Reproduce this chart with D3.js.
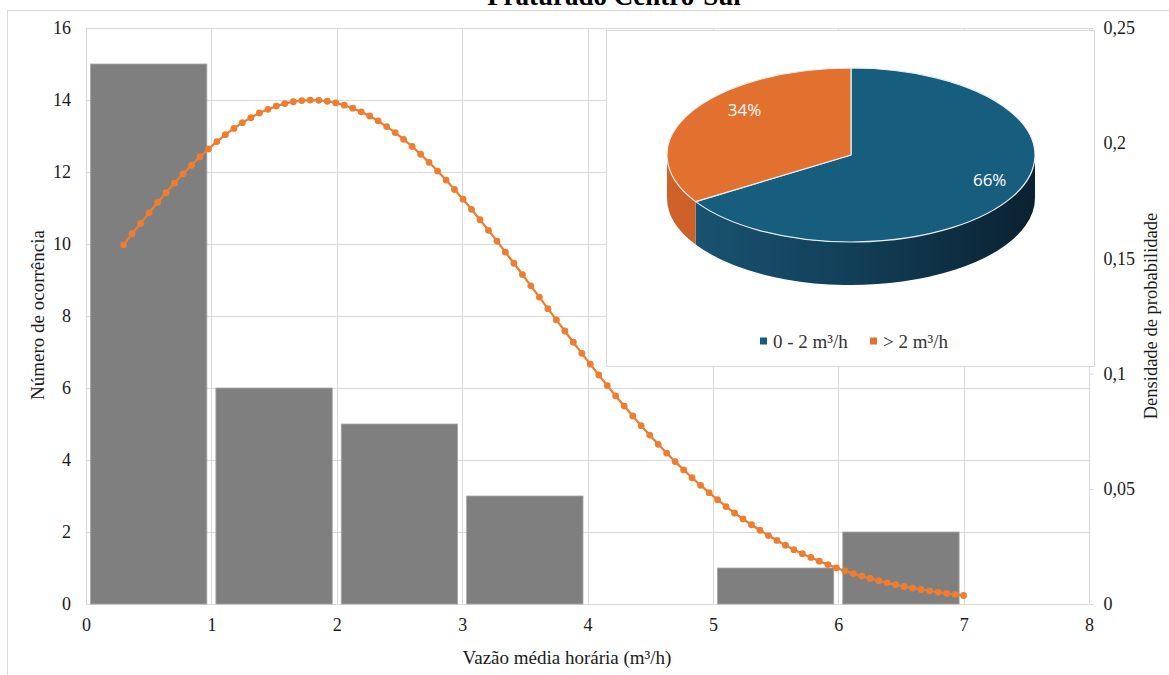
<!DOCTYPE html>
<html><head><meta charset="utf-8">
<script src="https://cdn.jsdelivr.net/npm/d3@7"></script>
<style>html,body{margin:0;padding:0;background:#fff;}svg{display:block;}</style>
</head><body>
<svg id="chart" width="1169" height="675"></svg>
<script>
// ---------- DATA ----------
const title = "Fraturado Centro-Sul";
const binStarts = [0, 1, 2, 3, 4, 5, 6, 7];
const counts = [15, 6, 5, 3, 0, 1, 2, 0];
const curveX = [0.300,0.368,0.435,0.503,0.571,0.638,0.706,0.774,0.841,0.909,0.977,1.044,1.112,1.180,1.247,1.315,1.383,1.451,1.518,1.586,1.654,1.721,1.789,1.857,1.924,1.992,2.060,2.127,2.195,2.263,2.330,2.398,2.466,2.533,2.601,2.669,2.736,2.804,2.872,2.939,3.007,3.075,3.142,3.210,3.278,3.345,3.413,3.481,3.548,3.616,3.684,3.752,3.819,3.887,3.955,4.022,4.090,4.158,4.225,4.293,4.361,4.428,4.496,4.564,4.631,4.699,4.767,4.834,4.902,4.970,5.037,5.105,5.173,5.240,5.308,5.376,5.443,5.511,5.579,5.646,5.714,5.782,5.849,5.917,5.985,6.052,6.120,6.188,6.255,6.323,6.391,6.458,6.526,6.594,6.661,6.729,6.797,6.864,6.932,7.000];
const curveY = [0.1559,0.1607,0.1652,0.1698,0.1743,0.1785,0.1827,0.1867,0.1904,0.1941,0.1975,0.2007,0.2037,0.2064,0.2089,0.2111,0.2131,0.2147,0.2161,0.2172,0.2180,0.2185,0.2187,0.2186,0.2182,0.2175,0.2165,0.2152,0.2136,0.2118,0.2097,0.2072,0.2046,0.2017,0.1986,0.1952,0.1917,0.1879,0.1840,0.1799,0.1757,0.1713,0.1668,0.1622,0.1575,0.1527,0.1479,0.1430,0.1381,0.1332,0.1282,0.1233,0.1185,0.1136,0.1088,0.1041,0.0994,0.0948,0.0903,0.0859,0.0816,0.0774,0.0733,0.0693,0.0655,0.0618,0.0582,0.0548,0.0515,0.0483,0.0453,0.0423,0.0395,0.0369,0.0344,0.0320,0.0297,0.0276,0.0255,0.0236,0.0218,0.0202,0.0186,0.0171,0.0157,0.0144,0.0132,0.0121,0.0111,0.0101,0.0092,0.0084,0.0076,0.0069,0.0063,0.0057,0.0051,0.0046,0.0042,0.0037];
const xTicks = [0, 1, 2, 3, 4, 5, 6, 7, 8];
const yLeftTicks = [0, 2, 4, 6, 8, 10, 12, 14, 16];
const yRightTicks = [0, 0.05, 0.1, 0.15, 0.2, 0.25];
const pieLabels = ["0 - 2 m³/h", "> 2 m³/h"];
const pieValues = [66, 34];
const xTitle = "Vazão média horária (m³/h)";
const yLeftTitle = "Número de ocorrência";
const yRightTitle = "Densidade de probabilidade";

// ---------- LAYOUT ----------
const svg = d3.select("#chart");
const serif = "Liberation Serif, Times New Roman, serif";
const M = {left: 86, right: 1089, top: 28, bottom: 604};
const x = d3.scaleLinear().domain([0, 8]).range([M.left, M.right]);
const yL = d3.scaleLinear().domain([0, 16]).range([M.bottom, M.top]);
const yR = d3.scaleLinear().domain([0, 0.25]).range([M.bottom, M.top]);
const grid = "#d9d9d9";
const txt = "#1a1a1a";

// outer frame
svg.append("rect").attr("x", 7.5).attr("y", 10.5).attr("width", 1200).attr("height", 700)
  .attr("fill", "none").attr("stroke", grid);

// title (partly cut off at the top, as in the source)
svg.append("text").attr("x", 614).attr("y", 5).attr("text-anchor", "middle")
  .attr("font-family", serif).attr("font-weight", "bold").attr("font-size", 27).attr("fill", "#000")
  .text(title);

// gridlines
svg.append("g").selectAll("line").data(yLeftTicks).join("line")
  .attr("x1", M.left).attr("x2", M.right)
  .attr("y1", d => Math.round(yL(d)) + 0.5).attr("y2", d => Math.round(yL(d)) + 0.5)
  .attr("stroke", grid);
svg.append("g").selectAll("line").data(xTicks).join("line")
  .attr("y1", M.top).attr("y2", M.bottom)
  .attr("x1", d => Math.round(x(d)) + 0.5).attr("x2", d => Math.round(x(d)) + 0.5)
  .attr("stroke", grid);

// axes via d3 axis generators
const axLeft = svg.append("g").attr("transform", `translate(${M.left - 15},0)`)
  .call(d3.axisLeft(yL).tickValues(yLeftTicks).tickSize(0).tickPadding(0).tickFormat(d3.format("d")));
const axBottom = svg.append("g").attr("transform", `translate(0,${M.bottom + 14})`)
  .call(d3.axisBottom(x).tickValues(xTicks).tickSize(0).tickPadding(0).tickFormat(d3.format("d")));
const fmtR = d => d === 0 ? "0" : String(d).replace(".", ",");
const axRight = svg.append("g").attr("transform", `translate(${M.right + 0.5},0)`)
  .call(d3.axisRight(yR).tickValues(yRightTicks).tickSize(4).tickPadding(10).tickFormat(fmtR));
[axLeft, axBottom, axRight].forEach(g => {
  g.select(".domain").remove();
  g.selectAll("text").attr("font-family", serif).attr("font-size", 18).attr("fill", txt);
  g.selectAll("line").attr("stroke", grid);
});
axBottom.selectAll("text").attr("dy", "0.71em");
svg.append("line").attr("x1", M.right + 0.5).attr("x2", M.right + 0.5).attr("y1", M.top).attr("y2", M.bottom).attr("stroke", grid);

// bars
const step = x(1) - x(0);
const pad = 4.5;
svg.append("g").selectAll("rect").data(binStarts.map((b, i) => ({b, c: counts[i]})).filter(d => d.c > 0))
  .join("rect")
  .attr("x", d => x(d.b) + pad).attr("width", step - 2 * pad)
  .attr("y", d => yL(d.c)).attr("height", d => yL(0) - yL(d.c))
  .attr("fill", "#7f7f7f").attr("stroke", "#a6a6a6").attr("stroke-width", 0.8);

// curve
const pts = curveX.map((v, i) => [v, curveY[i]]);
svg.append("path").datum(pts)
  .attr("d", d3.line().x(d => x(d[0])).y(d => yR(d[1])))
  .attr("fill", "none").attr("stroke", "#ed7d31").attr("stroke-width", 2.25);
svg.append("g").selectAll("circle").data(pts).join("circle")
  .attr("cx", d => x(d[0])).attr("cy", d => yR(d[1])).attr("r", 3.4)
  .attr("fill", "#ed7d31");

// axis titles
svg.append("text").attr("x", 567).attr("y", 664).attr("text-anchor", "middle")
  .attr("font-family", serif).attr("font-size", 19).attr("fill", txt).text(xTitle);
svg.append("text").attr("transform", "translate(44,315) rotate(-90)").attr("text-anchor", "middle")
  .attr("font-family", serif).attr("font-size", 19).attr("fill", txt).text(yLeftTitle);
svg.append("text").attr("transform", "translate(1157,316) rotate(-90)").attr("text-anchor", "middle")
  .attr("font-family", serif).attr("font-size", 18.5).attr("fill", txt).text(yRightTitle);

// ---------- INSET 3D PIE ----------
const box = {x: 606.5, y: 30.5, w: 488, h: 336};
svg.append("rect").attr("x", box.x).attr("y", box.y).attr("width", box.w).attr("height", box.h)
  .attr("fill", "#fff").attr("stroke", grid);

const cx = 851, cy = 155, rx = 184, ry = 87, depth = 43;
const topCol = ["#175d7e", "#e2702e"];
const labelK = [[0.86, 0.6], [0.66, 1.07]];
const defs = svg.append("defs");
const gradStops = [["#1a5674", "#123f58", "#0a2130"], ["#cf622a", "#b9541e", "#a04818"]];
gradStops.forEach((s, i) => {
  const g = defs.append("linearGradient").attr("id", "side" + i).attr("gradientUnits", "userSpaceOnUse")
    .attr("x1", cx - rx).attr("x2", cx + rx).attr("y1", 0).attr("y2", 0);
  g.append("stop").attr("offset", "0%").attr("stop-color", s[0]);
  g.append("stop").attr("offset", "50%").attr("stop-color", s[1]);
  g.append("stop").attr("offset", "100%").attr("stop-color", s[2]);
});
const P = (a, dy = 0) => [cx + rx * Math.sin(a), cy - ry * Math.cos(a) + dy];
const arcs = d3.pie().sort(null)(pieValues);

// sides (front half: angles PI/2 .. 3PI/2)
arcs.forEach((a, i) => {
  const s = Math.max(a.startAngle, Math.PI / 2), e = Math.min(a.endAngle, 3 * Math.PI / 2);
  if (s >= e) return;
  const p0 = P(s), p1 = P(e), q1 = P(e, depth), q0 = P(s, depth);
  const large = (e - s) > Math.PI ? 1 : 0;
  const d = `M${p0}A${rx},${ry} 0 ${large} 1 ${p1}L${q1}A${rx},${ry} 0 ${large} 0 ${q0}Z`;
  svg.append("path").attr("d", d).attr("fill", `url(#side${i})`);
});
// top faces
arcs.forEach((a, i) => {
  const p0 = P(a.startAngle), p1 = P(a.endAngle);
  const large = (a.endAngle - a.startAngle) > Math.PI ? 1 : 0;
  const d = `M${cx},${cy}L${p0}A${rx},${ry} 0 ${large} 1 ${p1}Z`;
  svg.append("path").attr("d", d).attr("fill", topCol[i])
    .attr("stroke", "#e6edf1").attr("stroke-width", 1.2).attr("stroke-linejoin", "round");
});
// percentage labels
const total = d3.sum(pieValues);
arcs.forEach((a, i) => {
  const m = (a.startAngle + a.endAngle) / 2;
  svg.append("text")
    .attr("x", cx + rx * labelK[i][0] * Math.sin(m)).attr("y", cy - ry * labelK[i][1] * Math.cos(m))
    .attr("dy", "0.35em").attr("text-anchor", "middle")
    .attr("font-family", "Open Sans, Noto Sans, sans-serif").attr("font-size", 17)
    .attr("fill", "#fff").text(Math.round(a.value / total * 100) + "%");
});
// legend
const lg = svg.append("g").attr("transform", "translate(0,341)");
const legX = [760, 870];
pieLabels.forEach((l, i) => {
  lg.append("rect").attr("x", legX[i]).attr("y", -3.5).attr("width", 7).attr("height", 7).attr("fill", topCol[i]);
  lg.append("text").attr("x", legX[i] + 13).attr("y", 0).attr("dy", "0.35em")
    .attr("font-family", serif).attr("font-size", 19).attr("fill", "#333").text(l);
});
</script>
</body></html>
